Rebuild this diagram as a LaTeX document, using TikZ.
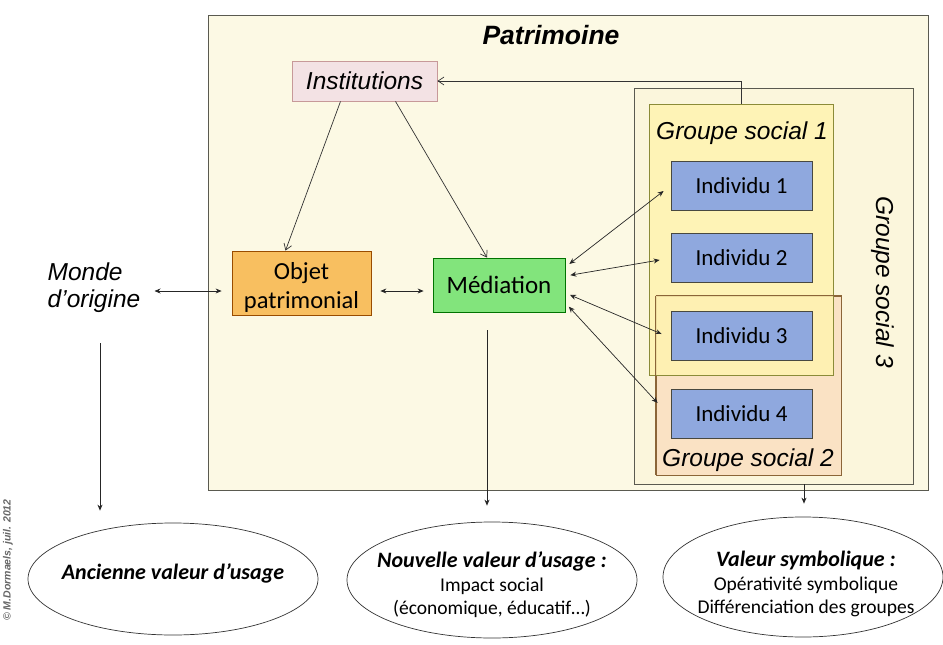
\documentclass[tikz,border=0pt]{standalone}
\usepackage{fontspec}
\setmainfont{Carlito}
\newfontfamily\arialf{Liberation Sans}
\usetikzlibrary{arrows.meta,shapes.geometric}
\definecolor{patbg}{HTML}{FCF9E4}
\definecolor{gsthree}{HTML}{FBF6DC}
\definecolor{gsone}{HTML}{FFF3B0}
\definecolor{gstwo}{HTML}{FAE2C4}
\definecolor{instfill}{HTML}{F3E2E4}
\definecolor{objfill}{HTML}{F8BF60}
\definecolor{medfill}{HTML}{82E47C}
\definecolor{indfill}{HTML}{8FA8DE}
\definecolor{edge}{HTML}{5A5A50}
\tikzset{
  box/.style={draw=#1, line width=0.8pt, inner sep=0pt, align=center},
  lab/.style={font=\arialf\itshape\fontsize{24.5}{28}\selectfont, inner sep=0pt},
  boxtxt/.style={font=\fontsize{24.5}{29}\selectfont, align=center, inner sep=0pt},
  indbox/.style={box=edge!80!black, fill=indfill, minimum width=141pt, minimum height=49pt, font=\fontsize{23}{25}\selectfont},
  arr/.style={draw=black!85, line width=0.7pt, -{Stealth[length=6pt,width=5pt]}},
  dbl/.style={draw=black!85, line width=0.7pt, {Stealth[length=6pt,width=5pt]}-{Stealth[length=6pt,width=5pt]}},
  vee/.style={draw=black!80, line width=0.7pt, -{Straight Barb[length=6pt,width=8pt]}},
  ell/.style={ellipse, draw=black!80, line width=0.7pt, fill=white, inner sep=0pt},
  elltext/.style={align=center, inner sep=0pt, font=\fontsize{19.5}{23.5}\selectfont},
}
\newcommand{\elltit}{\bfseries\itshape\fontsize{22}{24}\selectfont}
\begin{document}
\begin{tikzpicture}[x=1pt,y=-1pt]
\useasboundingbox (0,0) rectangle (943,645);
\fill[white] (0,0) rectangle (943,645);
% Patrimoine frame
\node[box=edge, fill=patbg, minimum width=720pt, minimum height=475pt] (pat) at (568,252.5) {};
\node[font=\arialf\bfseries\itshape\fontsize{26.5}{30}\selectfont, inner sep=0pt] (pattitle) at (551,35) {Patrimoine};
% Groupe social 3
\node[box=edge, fill=gsthree, minimum width=279pt, minimum height=396pt] (gs3) at (774,286) {};
\node[lab, rotate=-90] (gs3lab) at (883,282) {Groupe social 3};
% Groupe social 2 and 1
\node[box=edge!70!orange, fill=gstwo, minimum width=185pt, minimum height=179pt] (gs2) at (748.5,385.5) {};
\node[box=edge!70!yellow, fill=gsone, fill opacity=0.85, minimum width=184pt, minimum height=271pt] (gs1) at (741,239.5) {};
\draw[edge!70!orange, line width=0.8pt] (gs2.north west) -- (gs2.north east) -- (gs2.south east);
\draw[edge!70!orange, line width=0.8pt] (gs2.north west) -- (gs2.south west);
\node[lab] (gs1lab) at (742,133) {Groupe social 1};
\node[lab] (gs2lab) at (748,460) {Groupe social 2};
% Individus
\node[indbox] (i1) at (741.5,185.5) {Individu 1};
\node[indbox] (i2) at (741.5,257.5) {Individu 2};
\node[indbox] (i3) at (741.5,336) {Individu 3};
\node[indbox] (i4) at (741.5,414) {Individu 4};
% Main boxes
\node[box=black!55!red!40, fill=instfill, minimum width=145pt, minimum height=40pt, lab] (inst) at (364.5,81) {Institutions};
\node[box=orange!60!black, fill=objfill, minimum width=139pt, minimum height=64pt] (obj) at (301.5,283) {};
\node[boxtxt] (objtxt) at (301.5,287) {Objet\\patrimonial};
\node[box=green!45!black, fill=medfill, minimum width=132pt, minimum height=54pt, font=\fontsize{25}{29}\selectfont] (med) at (499,285) {Médiation};
\node[lab, align=left, font=\arialf\itshape\fontsize{24.5}{27}\selectfont] (monde) at (94,288) {Monde\\d’origine};
% Ellipses
\node[ell, minimum width=290pt, minimum height=112pt] (anc) at (173,579) {};
\node[elltext, font=\elltit] (anctxt) at (173,573) {Ancienne valeur d’usage};
\node[ell, minimum width=290pt, minimum height=116pt] (nouv) at (492,580) {};
\node[elltext] (nouvtxt) at (492,585) {{\elltit Nouvelle valeur d’usage :}\\Impact social\\(économique, éducatif…)};
\node[ell, minimum width=280pt, minimum height=120pt] (valsym) at (803,577) {};
\node[elltext] (valsymtxt) at (806,584) {{\elltit Valeur symbolique :}\\Opérativité symbolique\\Différenciation des groupes};
% copyright
\node[rotate=90, font=\arialf\bfseries\itshape\fontsize{10.5}{12}\selectfont, text=black!60, inner sep=0pt] (copy) at (8,560) {© M.Dormaels, juil. 2012};
% Connectors
\draw[dbl] ([xshift=14pt,yshift=-3pt]monde.east) -- ([xshift=-10pt,yshift=-8pt]obj.west);
\draw[dbl, shorten <=9pt, shorten >=9pt] ([yshift=-8pt]obj.east) -- ([yshift=-6pt]med.west);
\draw[vee] ([xshift=-24pt]inst.south) -- ([xshift=-16pt]obj.north);
\draw[vee] ([xshift=31pt]inst.south) -- ([xshift=-12pt]med.north);
\draw[vee] (gs1.north) |- (inst.east);
\draw[dbl, shorten <=5pt] ([yshift=18pt]med.east) -- ([xshift=-7pt,yshift=-5.5pt]i1.west);
\draw[dbl, shorten <=5pt] ([yshift=9pt]med.east) -- ([xshift=-11pt,yshift=-2.5pt]i2.west);
\draw[dbl, shorten <=5pt] ([yshift=-8pt]med.east) -- ([xshift=-9pt,yshift=2pt]i3.west);
\draw[dbl, shorten <=5pt] ([yshift=-18pt]med.east) -- ([xshift=-13pt,yshift=11pt]i4.west);
\draw[arr, shorten <=30pt, shorten >=12pt] ([xshift=6pt]monde.south) -- ([xshift=6pt]monde.south |- anc.north);
\draw[arr, shorten <=18pt, shorten >=16pt] ([xshift=-12pt]med.south) -- ([xshift=-12pt]med.south |- nouv.north);
\draw[arr, shorten >=13pt] ([xshift=30pt]gs3.south) -- ([xshift=30pt]gs3.south |- valsym.north);
\end{tikzpicture}
\end{document}
